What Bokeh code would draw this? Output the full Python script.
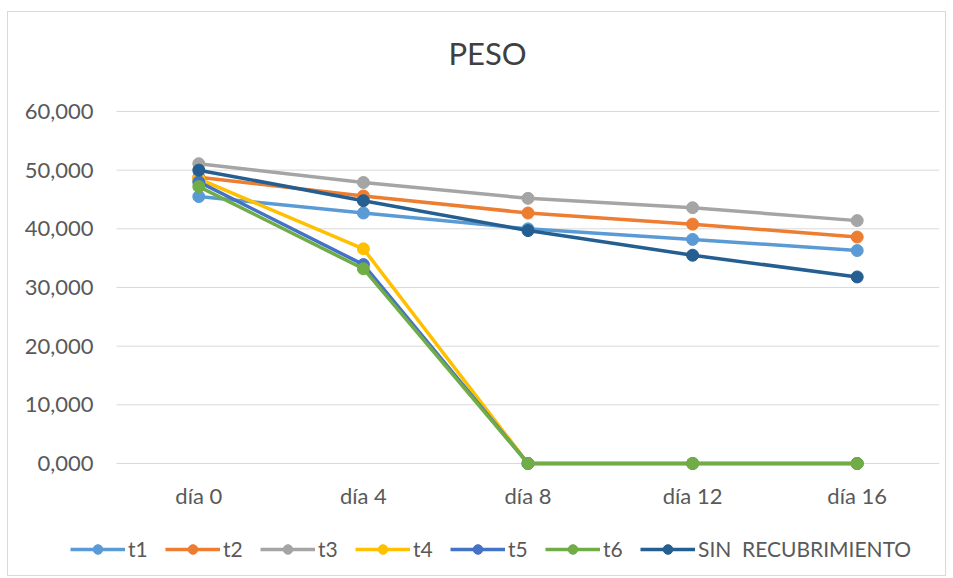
from bokeh.plotting import figure
from bokeh.models import Legend, LegendItem, Range1d, Label
from bokeh.core.properties import value
from bokeh.embed import file_html
from bokeh.resources import INLINE

days = ["día 0", "día 4", "día 8", "día 12", "día 16"]
t1 = [45.5, 42.7, 40.0, 38.2, 36.3]
t2 = [48.8, 45.6, 42.7, 40.8, 38.6]
t3 = [51.1, 47.9, 45.2, 43.6, 41.4]
t4 = [48.5, 36.6, 0.0, 0.0, 0.0]
t5 = [48.0, 33.9, 0.0, 0.0, 0.0]
t6 = [47.2, 33.2, 0.0, 0.0, 0.0]
sin_rec = [50.0, 44.8, 39.7, 35.5, 31.8]
series_names = ["t1", "t2", "t3", "t4", "t5", "t6", "SIN  RECUBRIMIENTO"]
series_vals = [t1, t2, t3, t4, t5, t6, sin_rec]
colors = ["#5B9BD5", "#ED7D31", "#A5A5A5", "#FFC000", "#4472C4", "#70AD47", "#255E91"]
y_ticks = [0, 10, 20, 30, 40, 50, 60]
y_tick_labels = ["0,000", "10,000", "20,000", "30,000", "40,000", "50,000", "60,000"]
title_text = "PESO"

FONT = "Lato"
TXT = "#595959"
idx = list(range(len(days)))
n = len(days)

# layout in pixels (figure space)
W, H = 939, 565
AREA_L, AREA_R, AREA_T, AREA_B = 108, 931, 99, 451   # category/value area
kx = (AREA_R - AREA_L) / n            # px per category
ky = (AREA_B - AREA_T) / 60.0         # px per value unit
x0 = -0.5 - AREA_L / kx
x1 = n - 0.5
y0 = -(H - AREA_B) / ky
y1 = 60 + AREA_T / ky

p = figure(width=W, height=H,
           x_range=Range1d(x0, x1 + (W - 8 - AREA_R) / kx),
           y_range=Range1d(y0, y1),
           output_backend="svg", toolbar_location=None,
           min_border_left=0, min_border_right=8, min_border_top=0, min_border_bottom=0)
p.styles = {"border": "1px solid #d9d9d9", "margin-left": "7px", "margin-top": "11px"}
p.outline_line_color = None
p.background_fill_color = "white"
p.xaxis.visible = False
p.yaxis.visible = False
p.xgrid.grid_line_color = None
p.ygrid.grid_line_color = None

# title
p.add_layout(Label(x=x0 + 479 / kx, y=y1 - 40 / ky, text=title_text,
                   text_align="center", text_baseline="middle", text_font=FONT,
                   text_font_size="31px", text_color="#404040"))

# gridlines at the value ticks, spanning the category area
p.segment(x0=[-0.5] * len(y_ticks), y0=y_ticks, x1=[n - 0.5] * len(y_ticks), y1=y_ticks,
          line_color="#d9d9d9", line_width=1)

# value-axis labels
p.text(x=[-0.5] * len(y_ticks), y=y_ticks, text=y_tick_labels, x_offset=-23,
       text_align="right", text_baseline="middle", text_font=value(FONT),
       text_font_size="22px", text_color=TXT)
# category labels
p.text(x=idx, y=[0] * n, text=days, y_offset=32,
       text_align="center", text_baseline="middle", text_font=value(FONT),
       text_font_size="22px", text_color=TXT)

items = []
for name, vals, c in zip(series_names, series_vals, colors):
    r1 = p.line(idx, vals, line_color=c, line_width=3.5)
    r2 = p.scatter(idx, vals, size=12, fill_color=c, line_color=c)
    items.append(LegendItem(label=name, renderers=[r1, r2]))

legend = Legend(items=items, orientation="horizontal", location=(62, 16),
                label_text_font=FONT, label_text_font_size="21px", label_text_color=TXT,
                glyph_width=55, glyph_height=24, label_height=24, spacing=17, label_standoff=3,
                border_line_color=None, background_fill_alpha=0, margin=0, padding=0)
p.add_layout(legend)

open("out.html", "w").write(file_html(p, INLINE))
